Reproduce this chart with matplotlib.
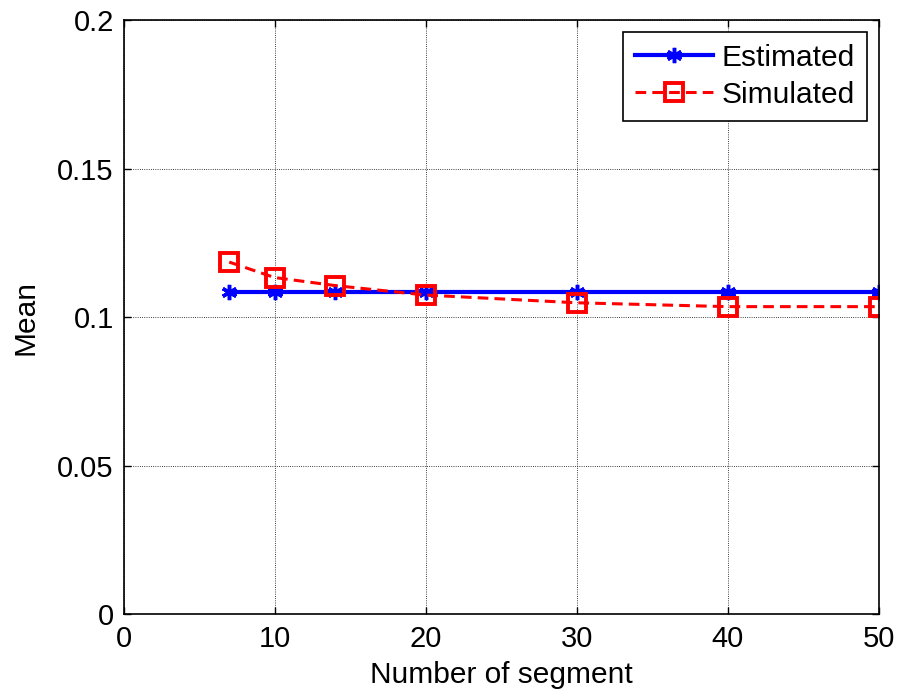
import matplotlib
matplotlib.use("Agg")
import matplotlib.pyplot as plt

segments = [7, 10, 14, 20, 30, 40, 50]
estimated = [0.1085, 0.1085, 0.1085, 0.1085, 0.1085, 0.1085, 0.1085]
simulated = [0.1185, 0.1133, 0.1106, 0.1074, 0.1048, 0.1035, 0.1035]
xticks = [0, 10, 20, 30, 40, 50]
yticks = [0, 0.05, 0.1, 0.15, 0.2]
yticklabels = ["0", "0.05", "0.1", "0.15", "0.2"]

plt.rcParams['font.family'] = ['Liberation Sans', 'DejaVu Sans']
FS_TICK = 21
FS = 21.5

fig = plt.figure(figsize=(8.99, 6.98), dpi=100)
ax = fig.add_axes([0.1374, 0.1203, 0.8400, 0.8510])

ax.plot(segments, estimated, '-', color='blue', lw=3, marker=(6, 2, 0),
        ms=11, mew=2.5, label='Estimated')
ax.plot(segments, simulated, '--s', color='red', lw=2.2, ms=13, mfc='none',
        mew=2.8, label='Simulated', dashes=(3.5, 2))

ax.set_xlim(0, 50)
ax.set_ylim(0, 0.2)
ax.set_xticks(xticks)
ax.set_xticklabels([str(v) for v in xticks])
ax.set_yticks(yticks)
ax.set_yticklabels(yticklabels)
ax.tick_params(direction='in', top=True, right=True, labelsize=FS_TICK, length=5,
               width=1.0)
ax.tick_params(axis='x', pad=8)
ax.tick_params(axis='y', pad=7)
ax.grid(True, color='black', linestyle=':', linewidth=0.6)
for s in ax.spines.values():
    s.set_linewidth(1.2)

ax.set_xlabel('Number of segment', fontsize=FS, labelpad=6)
ax.set_ylabel('Mean', fontsize=FS, labelpad=13)

leg = ax.legend(loc='upper right', fontsize=FS, fancybox=False, framealpha=1,
                edgecolor='black', borderaxespad=0.4, handlelength=2.6,
                handletextpad=0.3, borderpad=0.4, labelspacing=0.3)
leg.get_frame().set_linewidth(1.2)

fig.savefig('out.png', dpi=100)
